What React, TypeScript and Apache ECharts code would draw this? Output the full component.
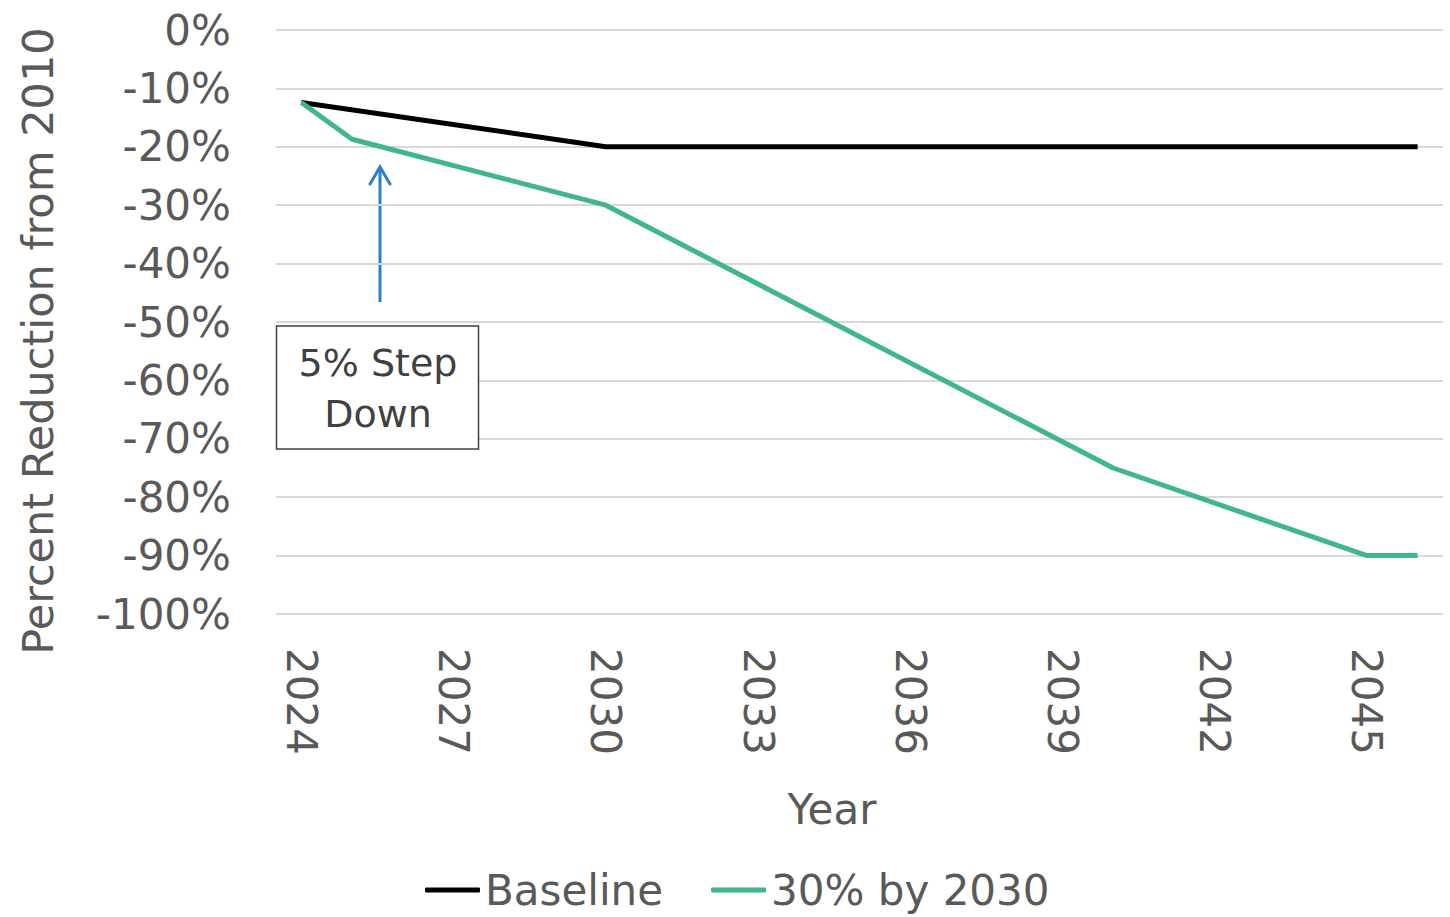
import React, { useEffect, useRef } from "react";
import * as echarts from "echarts";

// Years shown on the category axis
const years: string[] = [];
for (let y = 2024; y <= 2046; y++) years.push(String(y));

// Break points of each pathway: [year, percent change from 2010]
const baselinePoints: [string, number][] = [
  ["2024", -12.4],
  ["2030", -20],
  ["2046", -20],
];

const targetPoints: [string, number][] = [
  ["2024", -12.4],
  ["2025", -18.7],
  ["2030", -30],
  ["2040", -75],
  ["2045", -90],
  ["2046", -90],
];

const seriesNames = ["Baseline", "30% by 2030"];
const seriesColors = ["#000000", "#41B592"];

const FONT = "'DejaVu Sans', 'Noto Sans', sans-serif";
const LABEL = "#595959";

export default function App() {
  const ref = useRef<HTMLDivElement>(null);

  useEffect(() => {
    if (!ref.current) return;
    const chart = echarts.init(ref.current, undefined, { renderer: "svg" });
    chart.setOption({
      animation: false,
      backgroundColor: "#ffffff",
      textStyle: { fontFamily: FONT },
      grid: { left: 276, right: 7, top: 30, bottom: 303, containLabel: false },
      legend: {
        bottom: 1,
        left: 420,
        itemWidth: 55,
        itemHeight: 5,
        itemGap: 48,
        icon: "roundRect",
        textStyle: { fontSize: 42, color: LABEL, fontFamily: FONT },
        data: seriesNames,
      },
      xAxis: {
        type: "category",
        data: years,
        boundaryGap: true,
        axisLine: { show: false },
        axisTick: { show: false },
        axisLabel: {
          interval: 2,
          rotate: -90,
          fontSize: 42,
          color: LABEL,
          margin: 34,
          fontFamily: FONT,
        },
      },
      yAxis: {
        type: "value",
        min: -100,
        max: 0,
        interval: 10,
        axisLine: { show: false },
        axisTick: { show: false },
        splitLine: { lineStyle: { color: "#d9d9d9", width: 2 } },
        axisLabel: {
          fontSize: 42,
          color: LABEL,
          margin: 45,
          formatter: (v: number) => `${v}%`,
          fontFamily: FONT,
        },
      },
      series: [
        {
          name: seriesNames[0],
          type: "line",
          data: baselinePoints,
          symbol: "none",
          color: seriesColors[0],
          lineStyle: { width: 5, color: seriesColors[0] },
        },
        {
          name: seriesNames[1],
          type: "line",
          data: targetPoints,
          symbol: "none",
          color: seriesColors[1],
          lineStyle: { width: 5, color: seriesColors[1] },
        },
      ],
      graphic: [
        // Axis titles
        {
          type: "text",
          x: 38,
          y: 341,
          rotation: Math.PI / 2,
          style: {
            text: "Percent Reduction from 2010",
            fontSize: 43,
            fill: LABEL,
            fontFamily: FONT,
            align: "center",
            verticalAlign: "middle",
          },
        },
        {
          type: "text",
          x: 832,
          y: 809,
          style: {
            text: "Year",
            fontSize: 42,
            fill: LABEL,
            fontFamily: FONT,
            align: "center",
            verticalAlign: "middle",
          },
        },
        // Annotation arrow
        {
          type: "line",
          shape: { x1: 380, y1: 302, x2: 380, y2: 167 },
          style: { stroke: "#2E80C6", lineWidth: 3 },
        },
        {
          type: "polyline",
          shape: { points: [[370, 184], [380, 167], [390, 184]] },
          style: { stroke: "#2E80C6", lineWidth: 3, fill: "none", lineCap: "round" },
        },
        // Annotation box
        {
          type: "rect",
          shape: { x: 276.5, y: 326, width: 202, height: 123 },
          style: { fill: "#ffffff", stroke: "#404040", lineWidth: 1.5 },
          z: 10,
        },
        {
          type: "text",
          x: 378,
          y: 388,
          z: 11,
          style: {
            text: "5% Step\nDown",
            fontSize: 38,
            lineHeight: 51,
            fill: "#404040",
            fontFamily: FONT,
            align: "center",
            verticalAlign: "middle",
          },
        },
      ],
    });
    return () => chart.dispose();
  }, []);

  return (
    <div
      ref={ref}
      style={{ position: "fixed", left: 0, top: 0, width: 1450, height: 917 }}
    />
  );
}
